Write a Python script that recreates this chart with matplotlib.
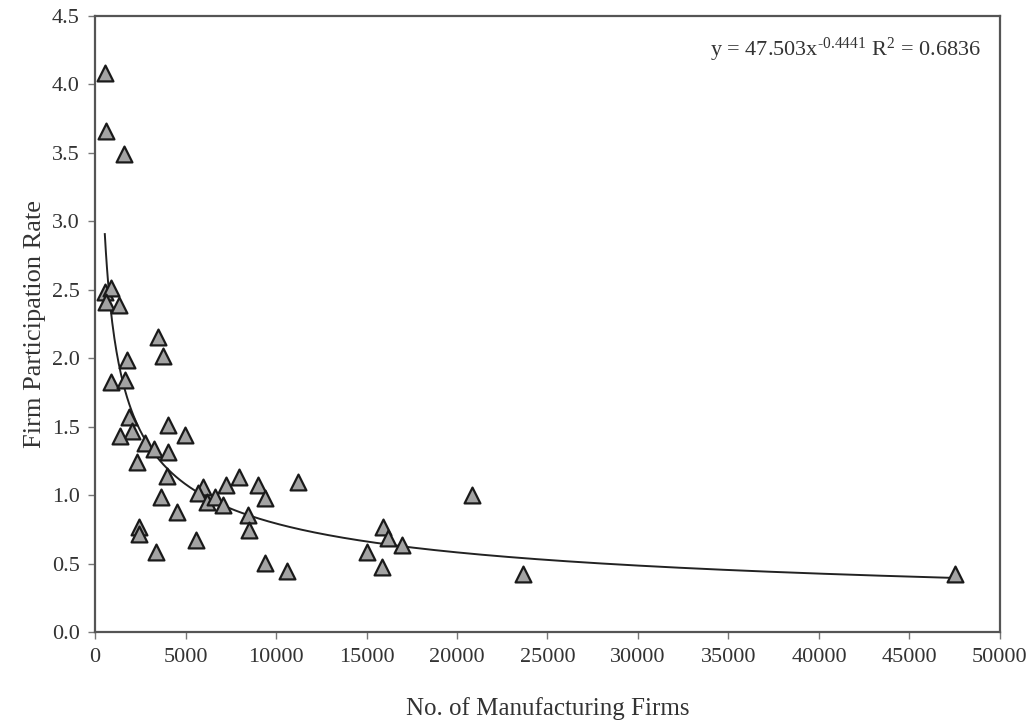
import numpy as np
import matplotlib
matplotlib.use("Agg")
import matplotlib.pyplot as plt

plt.rcParams['font.family'] = ['Liberation Serif', 'DejaVu Serif']
plt.rcParams['mathtext.fontset'] = 'custom'
plt.rcParams['mathtext.rm'] = 'Liberation Serif'
plt.rcParams['mathtext.it'] = 'Liberation Serif:italic'

# Data
num_firms = [540, 608, 1602, 553, 884, 608, 1326, 3481, 3757, 1768,
             884, 1657, 1878, 2044, 4033, 4972, 1381, 2762, 3260, 4050,
             2302, 3960, 3647, 4512, 2450, 2450, 3370, 5985, 5710, 6170,
             6630, 7220, 7090, 7956, 5580, 8990, 9392, 8470, 8525, 11232,
             9392, 10590, 15930, 16205, 16940, 15010, 15840, 20810, 23630, 47510]
participation = [4.08, 3.66, 3.49, 2.48, 2.51, 2.41, 2.39, 2.155, 2.02, 1.99,
                 1.83, 1.84, 1.57, 1.47, 1.51, 1.44, 1.43, 1.38, 1.335, 1.32,
                 1.245, 1.14, 0.99, 0.88, 0.77, 0.72, 0.59, 1.06, 1.015, 0.95,
                 0.99, 1.075, 0.93, 1.135, 0.675, 1.075, 0.98, 0.856, 0.75, 1.10,
                 0.505, 0.445, 0.77, 0.687, 0.638, 0.589, 0.48, 1.00, 0.43, 0.43]

# Power trendline coefficients (from the chart's equation)
fit_a = 47.503
fit_b = -0.4441
r_squared = 0.6836

x_ticks = [0, 5000, 10000, 15000, 20000, 25000, 30000, 35000, 40000, 45000, 50000]
y_ticks = [0.0, 0.5, 1.0, 1.5, 2.0, 2.5, 3.0, 3.5, 4.0, 4.5]

fig = plt.figure(figsize=(10.33, 7.25), dpi=100)
ax = fig.add_axes([0.092, 0.1276, 0.876, 0.851])

xs = np.linspace(min(num_firms), max(num_firms), 800)
ax.plot(xs, fit_a * xs ** fit_b, color='#222222', lw=1.4, zorder=2)

ax.scatter(num_firms, participation, marker='^', s=130, facecolor='#a3a3a3',
           edgecolor='#1a1a1a', linewidth=1.6, zorder=3)

ax.set_xlim(0, 50000)
ax.set_ylim(0, 4.5)
ax.set_xticks(x_ticks)
ax.set_xticklabels([str(v) for v in x_ticks])
ax.set_yticks(y_ticks)
ax.set_yticklabels([f"{v:.1f}" for v in y_ticks])

for sp in ax.spines.values():
    sp.set_color('#555555')
    sp.set_linewidth(1.6)
ax.tick_params(direction='out', length=5, width=1, color='#777777',
               labelsize=16, labelcolor='#333333', pad=6)

ax.set_xlabel('No. of Manufacturing Firms', fontsize=18, color='#333333', labelpad=22)
ax.set_ylabel('Firm Participation Rate', fontsize=19, color='#333333', labelpad=4)

exp_txt = f'{fit_b}'.replace('-', '\u2010')
ax.text(0.68, 0.944,
        f'y = {fit_a}x$^{{\\mathrm{{{exp_txt}}}}}$ R$^{{\\mathrm{{2}}}}$ = {r_squared}',
        transform=ax.transAxes, fontsize=16, color='#333333', ha='left', va='center')

fig.savefig('out.png', dpi=100, facecolor='white')
